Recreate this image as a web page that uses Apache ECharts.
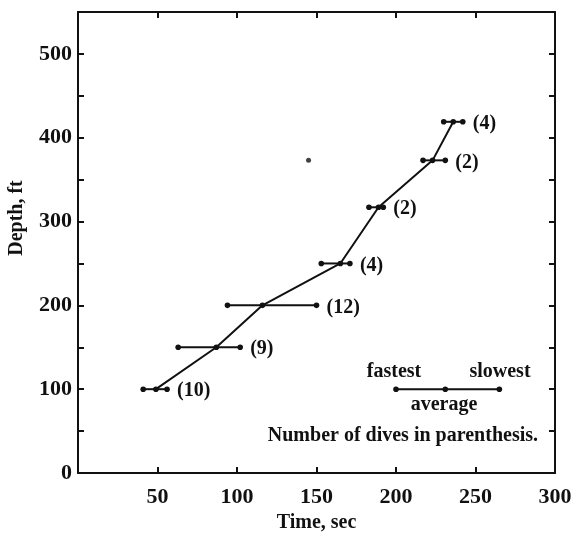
<!DOCTYPE html>
<html>
<head>
<meta charset="utf-8">
<script src="https://cdn.jsdelivr.net/npm/echarts@6/dist/echarts.min.js"></script>
<style>
  html, body { margin: 0; background: #fff; }
  #chart { width: 572px; height: 537px; }
</style>
</head>
<body>
<div id="chart"></div>
<script>
// depth of each group of dives, ft
const depths = [100, 150, 200, 250, 317, 373, 419]
// descent times, sec
const fastest = [41, 63, 94, 153, 183, 217, 230]
const average = [49, 87, 116, 165, 189, 223, 236]
const slowest = [56, 102, 150, 171, 192, 231, 242]
// number of dives in each group
const diveCounts = [10, 9, 12, 4, 2, 2, 4]
// lone dot left of the curve
const strayPoint = [[145, 373]]
// key sample: fastest / average / slowest
const keyDepth = 100
const keyTimes = [200, 231, 265]
// tick labels
const xLabels = [50, 100, 150, 200, 250, 300]
const yLabels = [0, 100, 200, 300, 400, 500]

const FAMILY = '"Liberation Serif", "DejaVu Serif", serif'
const FONT = 'bold 20px ' + FAMILY
const INK = '#111'

const rangeData = depths.map((d, i) => [d, fastest[i], average[i], slowest[i], diveCounts[i]])
rangeData.push([keyDepth, keyTimes[0], keyTimes[1], keyTimes[2], 0])

function renderRange(params, api) {
  const y = api.value(0)
  const pf = api.coord([api.value(1), y])
  const pa = api.coord([api.value(2), y])
  const ps = api.coord([api.value(3), y])
  const children = [
    {
      type: 'line',
      shape: { x1: pf[0], y1: pf[1], x2: ps[0], y2: ps[1] },
      style: { stroke: INK, lineWidth: 2 },
    },
  ]
  ;[pf, pa, ps].forEach((p) => {
    children.push({ type: 'circle', shape: { cx: p[0], cy: p[1], r: 2.8 }, style: { fill: INK } })
  })
  const n = api.value(4)
  if (n) {
    children.push({
      type: 'text',
      x: ps[0] + 10,
      y: ps[1] + 2,
      style: { text: '(' + n + ')', font: FONT, fill: INK, verticalAlign: 'middle' },
    })
  }
  return { type: 'group', children }
}

const axisCommon = {
  type: 'value',
  interval: 50,
  splitLine: { show: false },
  axisLine: { show: true, onZero: false, lineStyle: { color: INK, width: 2 } },
  axisTick: { show: true, inside: true, length: 6, lineStyle: { color: INK, width: 2 } },
}

const tickLabel = {
  color: INK,
  fontSize: 22,
  fontWeight: 'bold',
  fontFamily: FAMILY,
}

const chart = echarts.init(document.getElementById('chart'))
chart.setOption({
  animation: false,
  grid: { left: 78, right: 17, top: 12, bottom: 64, outerBoundsMode: 'none', containLabel: false },
  xAxis: [
    Object.assign({}, axisCommon, {
      min: 0,
      max: 300,
      position: 'bottom',
      name: 'Time, sec',
      nameLocation: 'middle',
      nameGap: 40,
      nameTextStyle: { color: INK, fontSize: 20, fontWeight: 'bold', fontFamily: FAMILY },
      axisLabel: Object.assign({}, tickLabel, {
        margin: 13,
        formatter: (v) => (xLabels.includes(v) ? String(v) : ''),
      }),
    }),
    Object.assign({}, axisCommon, { min: 0, max: 300, position: 'top', axisLabel: { show: false } }),
  ],
  yAxis: [
    Object.assign({}, axisCommon, {
      min: 0,
      max: 550,
      position: 'left',
      axisLabel: Object.assign({}, tickLabel, {
        margin: 6,
        formatter: (v) => (yLabels.includes(v) ? String(v) : ''),
      }),
    }),
    Object.assign({}, axisCommon, { min: 0, max: 550, position: 'right', axisLabel: { show: false } }),
  ],
  graphic: [
    {
      type: 'text', x: 17, y: 218, rotation: Math.PI / 2,
      style: { text: 'Depth, ft', font: FONT, fill: INK, align: 'center', verticalAlign: 'middle' },
    },
    {
      type: 'text', x: 394, y: 372,
      style: { text: 'fastest', font: FONT, fill: INK, align: 'center', verticalAlign: 'middle' },
    },
    {
      type: 'text', x: 500, y: 372,
      style: { text: 'slowest', font: FONT, fill: INK, align: 'center', verticalAlign: 'middle' },
    },
    {
      type: 'text', x: 444, y: 405,
      style: { text: 'average', font: FONT, fill: INK, align: 'center', verticalAlign: 'middle' },
    },
    {
      type: 'text', x: 538, y: 436,
      style: { text: 'Number of dives in parenthesis.', font: FONT, fill: INK, align: 'right', verticalAlign: 'middle' },
    },
  ],
  series: [
    {
      type: 'custom',
      renderItem: renderRange,
      encode: { x: [1, 2, 3], y: 0 },
      data: rangeData,
      z: 2,
    },
    {
      type: 'line',
      data: depths.map((d, i) => [average[i], d]),
      symbol: 'none',
      lineStyle: { color: INK, width: 2 },
      z: 3,
    },
    {
      type: 'scatter',
      data: strayPoint,
      symbolSize: 5,
      itemStyle: { color: INK },
    },
  ],
})
</script>
</body>
</html>
